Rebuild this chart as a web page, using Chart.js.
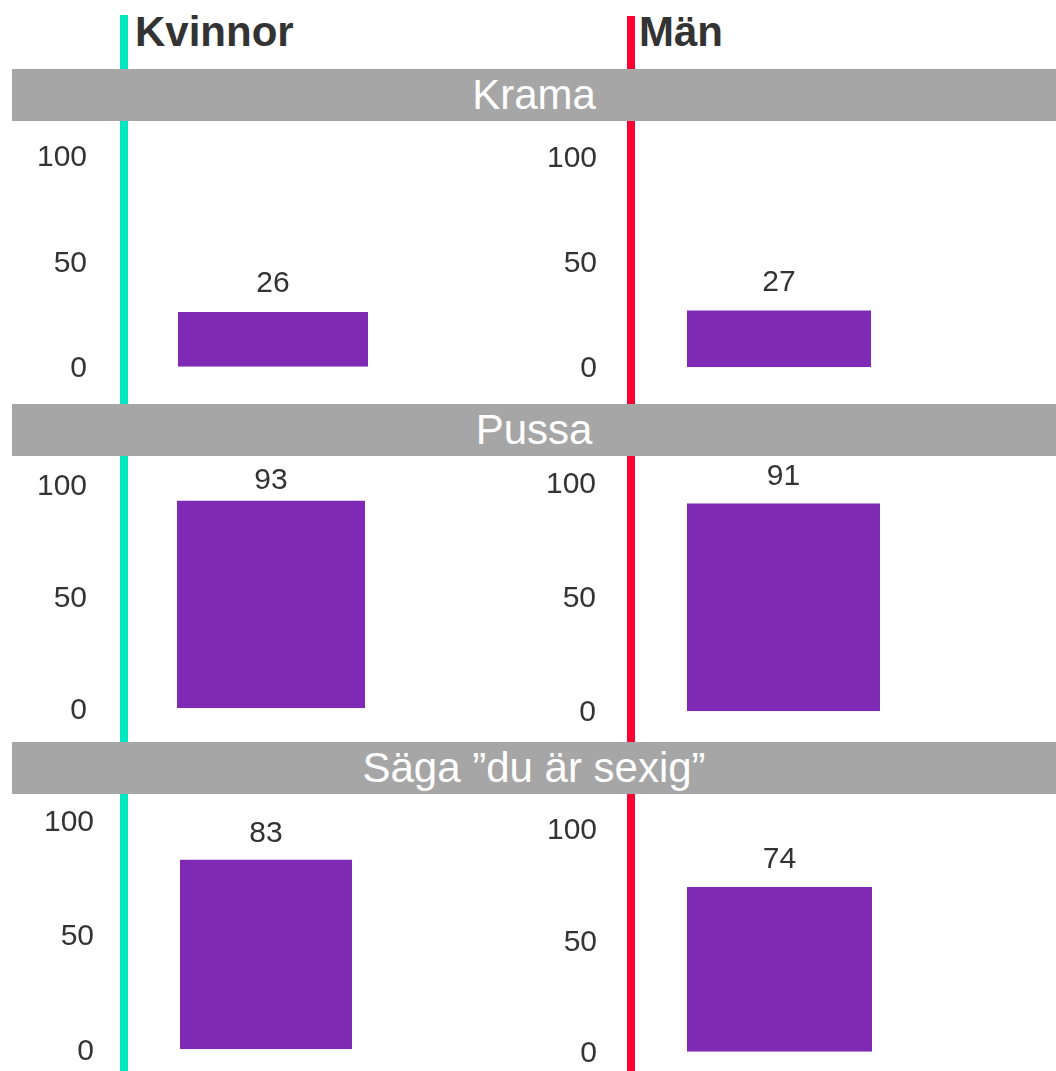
<!DOCTYPE html>
<html>
<head>
<meta charset="utf-8">
<script src="https://cdn.jsdelivr.net/npm/chart.js@4.4.1/dist/chart.umd.min.js"></script>
<style>
  body { margin: 0; width: 1056px; height: 1071px; background: #fff; position: relative; overflow: hidden;
         font-family: "Liberation Sans", Arial, sans-serif; }
  .vline { position: absolute; width: 8px; bottom: 0; }
  .head { position: absolute; top: 11px; font-size: 42px; line-height: 42px; font-weight: bold; color: #333; }
  .band { position: absolute; left: 12px; right: 0; height: 52px; line-height: 52px; background: #a6a6a6;
          color: #fff; font-size: 42px; text-align: center; white-space: nowrap; }
  canvas { position: absolute; }
</style>
</head>
<body>
<script>
// data
const activities = ['Krama', 'Pussa', 'Säga ”du är sexig”'];
const groups = ['Kvinnor', 'Män'];
const kvinnorValues = [26, 93, 83];
const manValues = [27, 91, 74];
const yTicks = [0, 50, 100];

// page layout (pixels)
const groupLine = [{ x: 120, top: 15, color: '#00e6c0' }, { x: 627, top: 16, color: '#ff0033' }];
const headLeft = [135, 639];
const bandTop = [69, 404, 742];
// per panel: y of 100, y of 0, tick label right edge, bar left, bar right, value label offset
const panelLayout = [
  [[156, 366.7, 87, 178, 368, 29], [156.5, 366.7, 597, 687, 871, 29]],
  [[485, 708.3, 87, 177, 365, 21], [482.5, 710.7, 596, 687, 880, 27.5]],
  [[821, 1049.3, 94, 180, 352, 27.5], [829, 1051.7, 597, 687, 872, 28.5]]
];

const values = [kvinnorValues, manValues];
const purple = '#7f2ab4';
const fontFamily = '"Liberation Sans", Arial, sans-serif';

groups.forEach((g, i) => {
  const line = document.createElement('div');
  line.className = 'vline';
  line.style.left = groupLine[i].x + 'px';
  line.style.top = groupLine[i].top + 'px';
  line.style.background = groupLine[i].color;
  document.body.appendChild(line);

  const head = document.createElement('div');
  head.className = 'head';
  head.style.left = headLeft[i] + 'px';
  head.textContent = g;
  document.body.appendChild(head);
});

activities.forEach((a, r) => {
  const band = document.createElement('div');
  band.className = 'band';
  band.style.top = bandTop[r] + 'px';
  band.textContent = a;
  document.body.appendChild(band);
});

const valueLabels = {
  id: 'valueLabels',
  afterDatasetsDraw(chart, args, opts) {
    const ctx = chart.ctx;
    ctx.save();
    ctx.font = '30px ' + fontFamily;
    ctx.fillStyle = '#333';
    ctx.textAlign = 'center';
    ctx.textBaseline = 'middle';
    chart.getDatasetMeta(0).data.forEach((bar, k) => {
      ctx.fillText(chart.data.datasets[0].data[k], bar.x, bar.y - opts.offset + 1);
    });
    ctx.restore();
  }
};

// bottom padding must exceed the axis' own label padding (half label + tick padding)
const axisW = 80, tickPad = 10, padTop = 45, padBottom = 40;

activities.forEach((a, r) => {
  groups.forEach((g, c) => {
    const [y100, y0, labelRight, barL, barR, offset] = panelLayout[r][c];
    const left = labelRight + tickPad - axisW;
    const chartLeft = labelRight + tickPad;
    const chartRight = (barL + barR) - chartLeft;
    const w = Math.round(chartRight - left);
    const plotH = y0 - y100;
    const top = y100 - padTop;
    const h = Math.round(plotH + padTop + padBottom);

    const cv = document.createElement('canvas');
    cv.width = w;
    cv.height = h;
    cv.style.left = left + 'px';
    cv.style.top = top + 'px';
    cv.style.width = w + 'px';
    cv.style.height = h + 'px';
    document.body.appendChild(cv);

    new Chart(cv, {
      type: 'bar',
      data: {
        labels: [a],
        datasets: [{
          label: g,
          data: [values[c][r]],
          backgroundColor: purple,
          barPercentage: (barR - barL) / (chartRight - chartLeft),
          categoryPercentage: 1
        }]
      },
      options: {
        responsive: false,
        animation: false,
        devicePixelRatio: 1,
        layout: { padding: { top: padTop, bottom: h - padTop - plotH, left: 0, right: 0 } },
        plugins: { legend: { display: false }, tooltip: { enabled: false }, valueLabels: { offset: offset } },
        scales: {
          x: { display: false },
          y: {
            min: 0,
            max: 100,
            grid: { display: false, drawTicks: false },
            border: { display: false },
            ticks: { padding: tickPad, labelOffset: 2, color: '#333', font: { family: fontFamily, size: 30 } },
            afterBuildTicks: s => { s.ticks = yTicks.map(v => ({ value: v })); },
            afterFit: s => { s.width = axisW; }
          }
        }
      },
      plugins: [valueLabels]
    });
  });
});
</script>
</body>
</html>
